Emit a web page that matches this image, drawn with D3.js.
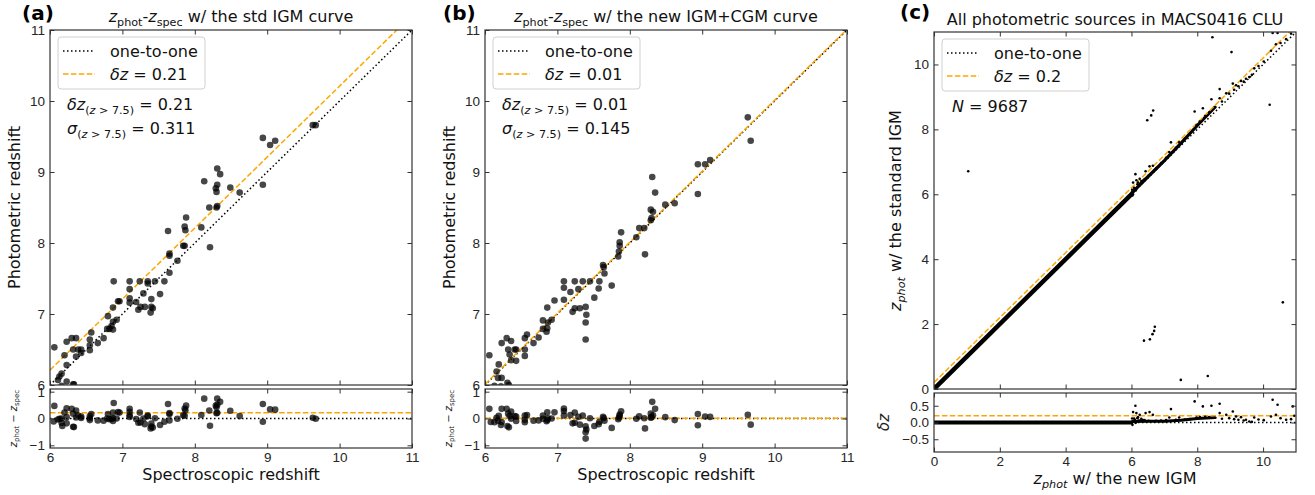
<!DOCTYPE html>
<html>
<head>
<meta charset="utf-8">
<script src="https://cdn.jsdelivr.net/npm/d3@7"></script>
<style>
    body { margin: 0; background: #fff; }
    svg { display: block; font-family: "DejaVu Sans", sans-serif; }
    .tick text { font-size: 13.5px; fill: #262626; }
    .tick line { stroke: #333; stroke-width: 1; }
</style>
</head>
<body>
<div class="svg_container"></div>
<script>
// [z_spec, z_phot] with the standard IGM curve
var stdPoints = [
    [6.06, 6.53], [6.23, 6.61], [6.30, 6.66], [6.36, 6.66], [6.32, 6.50], [6.39, 6.50], [6.43, 6.50],
    [6.20, 6.42], [6.36, 6.40], [6.43, 6.45], [6.23, 6.28], [6.16, 6.16], [6.13, 6.12], [6.11, 6.07],
    [6.23, 6.05], [6.32, 6.01], [6.05, 5.94], [6.16, 5.99], [6.17, 5.89], [6.33, 6.01],
    [6.55, 6.56], [6.57, 6.74], [6.55, 6.64], [6.55, 6.49], [6.66, 6.59], [6.74, 6.66], [6.79, 6.79],
    [6.82, 6.79], [6.87, 6.78], [6.85, 6.83], [6.87, 6.89], [6.92, 6.92], [6.80, 6.97], [6.87, 7.09],
    [6.88, 7.46], [6.94, 7.18], [6.96, 7.18],
    [7.10, 7.46], [7.10, 7.35], [7.10, 7.22], [7.10, 7.16], [7.19, 7.17], [7.22, 7.06], [7.25, 7.10],
    [7.31, 7.10], [7.24, 7.46], [7.35, 7.46], [7.35, 7.43], [7.29, 7.29], [7.40, 7.21], [7.40, 7.10],
    [7.42, 7.08], [7.39, 7.02], [7.45, 7.46], [7.58, 7.46], [7.52, 7.28],
    [7.65, 7.58], [7.65, 7.85], [7.65, 7.82], [7.63, 8.17], [7.76, 7.75], [7.84, 7.96], [7.86, 7.96],
    [7.86, 8.23], [7.87, 8.18], [7.88, 8.36],
    [8.09, 8.22], [8.21, 7.94], [8.20, 8.50], [8.30, 8.50], [8.31, 8.52], [8.13, 8.87], [8.29, 8.77],
    [8.30, 8.72], [8.31, 8.82], [8.31, 9.05], [8.35, 8.97], [8.49, 8.78], [8.62, 8.71],
    [8.94, 8.82], [8.94, 9.48], [9.04, 9.38], [9.11, 9.44], [9.63, 9.66], [9.67, 9.66]
];

// [z_spec, z_phot] with the new IGM+CGM curve
var newPoints = [
    [6.06, 6.42], [6.18, 6.10], [6.23, 6.10], [6.16, 6.19], [6.19, 6.29], [6.23, 6.59], [6.30, 6.66],
    [6.36, 6.62], [6.32, 6.50], [6.34, 6.43], [6.41, 6.50], [6.43, 6.50], [6.36, 6.35], [6.43, 6.34],
    [6.13, 5.99], [6.22, 5.98], [6.31, 6.03], [6.08, 5.95], [6.33, 6.00],
    [6.55, 6.50], [6.55, 6.41], [6.55, 6.66], [6.58, 6.71], [6.67, 6.59], [6.74, 6.67], [6.80, 6.79],
    [6.86, 6.80], [6.85, 6.75], [6.87, 6.88], [6.92, 6.92], [6.80, 6.91], [6.86, 7.09], [6.96, 7.19],
    [7.09, 7.46], [7.09, 7.37], [7.09, 7.20], [7.18, 7.31], [7.24, 7.46], [7.35, 7.46], [7.29, 7.35],
    [7.21, 7.03], [7.24, 7.08], [7.31, 7.08], [7.39, 7.10], [7.40, 6.99], [7.39, 6.88], [7.39, 6.64],
    [7.45, 7.46], [7.58, 7.46], [7.57, 7.36], [7.51, 7.23], [7.75, 7.40],
    [7.64, 7.66], [7.65, 7.57], [7.63, 7.69], [7.84, 7.81], [7.86, 7.96], [7.86, 8.01], [7.88, 8.15],
    [7.85, 7.88],
    [8.09, 8.08], [8.21, 7.84], [8.20, 8.21], [8.13, 8.21], [8.29, 8.32], [8.30, 8.35], [8.29, 8.47],
    [8.32, 8.44], [8.31, 8.93], [8.35, 8.71], [8.49, 8.54], [8.62, 8.56],
    [8.94, 8.69], [8.94, 9.11], [9.04, 9.11], [9.11, 9.17], [9.63, 9.77], [9.67, 9.44]
];

// MACS0416 sources: [z_phot new IGM, z_phot standard IGM]
var allSources = [
    [1.04, 6.71], [6.38, 1.49], [6.56, 1.53], [6.64, 1.69], [6.69, 1.79], [6.71, 1.92],
    [6.48, 8.28], [6.60, 8.43], [6.66, 8.58], [7.50, 0.28], [8.32, 0.40], [10.60, 2.67],
    [10.20, 8.76], [8.46, 10.84], [9.04, 10.38],
    [6.05, 6.36], [6.12, 6.62], [6.15, 6.43], [6.25, 6.48], [6.43, 6.71], [6.55, 6.86], [6.65, 6.88],
    [6.03, 5.96], [6.08, 6.20], [6.18, 6.31], [6.22, 6.28], [6.30, 6.41], [6.35, 6.42], [6.20, 6.36],
    [6.10, 6.18], [6.27, 6.33], [6.40, 6.47], [6.02, 6.14], [6.13, 6.12], [6.52, 6.57], [6.75, 6.80],
    [6.90, 6.96], [7.05, 7.12], [7.15, 7.30], [7.20, 7.60], [7.35, 7.43], [7.45, 7.60], [7.62, 7.71],
    [7.78, 7.88], [7.92, 8.55], [7.98, 8.13], [8.08, 8.24], [8.17, 8.65], [8.24, 8.41], [8.36, 8.52],
    [8.43, 8.93], [8.55, 8.69], [8.68, 9.24], [8.68, 8.96], [8.75, 8.86], [8.88, 9.11], [8.97, 9.10],
    [9.08, 9.41], [9.12, 9.22], [9.18, 9.36], [9.25, 9.33], [9.33, 9.49], [9.41, 9.47], [9.48, 9.56],
    [9.58, 9.61], [9.66, 9.68], [9.73, 9.88], [9.86, 9.95], [10.02, 10.09], [10.24, 10.42],
    [10.29, 10.97], [10.39, 10.62], [10.44, 10.97], [10.53, 10.66], [10.70, 10.78], [10.85, 10.95],
    [10.90, 11.38], [10.95, 11.15]
];

// unresolved bulk of the 9687 sources, traced along its centre
var denseLow = [[0, 0], [6.05, 6.05]];
var denseHigh = [[6.0, 6.03], [6.5, 6.54], [7.0, 7.04], [7.5, 7.57], [8.0, 8.12], [8.55, 8.70]];

var ticksAB = [6, 7, 8, 9, 10, 11];
var resTicksAB = [-1, 0, 1];
var ticksC = [0, 2, 4, 6, 8, 10];
var resTicksC = [-0.5, 0, 0.5];

var offsetStd = 0.21;
var offsetNew = 0.01;
var offsetAll = 0.2;

const WIDTH = 1315;
const HEIGHT = 495;
const ORANGE = "#FFA500";

var translate = function (x, y) {
    return "translate(" + x + "," + y + ")";
};

// text with italic / subscript pieces, like matplotlib mathtext
var mathText = function (sel, parts, size) {
    var shift = 0;
    parts.forEach(function (p) {
        var want = p.sub ? size * 0.24 : 0;
        var t = sel.append("tspan").text(p.t).attr("dy", want - shift);
        shift = want;
        if (p.it) t.attr("font-style", "italic");
        if (p.sub) t.attr("font-size", size * 0.7);
    });
    return sel;
};

var panels = [
    {
        tag: "(a)", tagX: 22, tagY: 20,
        left: 50, right: 412, top: 30, mid: 385, resTop: 389, bottom: 448,
        dom: [6, 11], resDom: [-1.1, 1.1], ticks: ticksAB, resTicks: resTicksAB, resFmt: d3.format("d"),
        data: stdPoints, offset: offsetStd, r: 3.3, small: false,
        title: [{t: "z", it: 1}, {t: "phot", sub: 1}, {t: "-"}, {t: "z", it: 1}, {t: "spec", sub: 1}, {t: " w/ the std IGM curve"}],
        titleY: 22, titleSize: 16,
        yLabel: [{t: "Photometric redshift"}], yLabelX: 20, yLabelSize: 16,
        xLabel: [{t: "Spectroscopic redshift"}], xLabelY: 480,
        resLabel: [{t: "z", it: 1}, {t: "phot", sub: 1}, {t: " \u2212 "}, {t: "z", it: 1}, {t: "spec", sub: 1}],
        resLabelX: 17, resLabelSize: 10,
        legendText: "0.21",
        notes: [
            [{t: "\u03b4z", it: 1}, {t: "(", sub: 1}, {t: "z", it: 1, sub: 1}, {t: " > 7.5)", sub: 1}, {t: " = 0.21"}],
            [{t: "\u03c3", it: 1}, {t: "(", sub: 1}, {t: "z", it: 1, sub: 1}, {t: " > 7.5)", sub: 1}, {t: " = 0.311"}]
        ]
    },
    {
        tag: "(b)", tagX: 443, tagY: 20,
        left: 485, right: 847, top: 30, mid: 385, resTop: 389, bottom: 448,
        dom: [6, 11], resDom: [-1.1, 1.1], ticks: ticksAB, resTicks: resTicksAB, resFmt: d3.format("d"),
        data: newPoints, offset: offsetNew, r: 3.3, small: false,
        title: [{t: "z", it: 1}, {t: "phot", sub: 1}, {t: "-"}, {t: "z", it: 1}, {t: "spec", sub: 1}, {t: " w/ the new IGM+CGM curve"}],
        titleY: 22, titleSize: 16,
        yLabel: [{t: "Photometric redshift"}], yLabelX: 455, yLabelSize: 16,
        xLabel: [{t: "Spectroscopic redshift"}], xLabelY: 480,
        resLabel: [{t: "z", it: 1}, {t: "phot", sub: 1}, {t: " \u2212 "}, {t: "z", it: 1}, {t: "spec", sub: 1}],
        resLabelX: 452, resLabelSize: 10,
        legendText: "0.01",
        notes: [
            [{t: "\u03b4z", it: 1}, {t: "(", sub: 1}, {t: "z", it: 1, sub: 1}, {t: " > 7.5)", sub: 1}, {t: " = 0.01"}],
            [{t: "\u03c3", it: 1}, {t: "(", sub: 1}, {t: "z", it: 1, sub: 1}, {t: " > 7.5)", sub: 1}, {t: " = 0.145"}]
        ]
    },
    {
        tag: "(c)", tagX: 900, tagY: 19,
        left: 934, right: 1296, top: 32, mid: 389, resTop: 393, bottom: 452,
        dom: [0, 11], resDom: [-0.88, 0.88], ticks: ticksC, resTicks: resTicksC, resFmt: d3.format(".1f"),
        data: allSources, offset: offsetAll, r: 1.3, small: true,
        title: [{t: "All photometric sources in MACS0416 CLU"}],
        titleY: 25, titleSize: 16,
        yLabel: [{t: "z", it: 1}, {t: "phot", it: 1, sub: 1}, {t: " w/ the standard IGM"}], yLabelX: 901, yLabelSize: 16,
        xLabel: [{t: "z", it: 1}, {t: "phot", it: 1, sub: 1}, {t: " w/ the new IGM"}], xLabelY: 484,
        resLabel: [{t: "\u03b4z", it: 1}], resLabelX: 889, resLabelSize: 15,
        legendText: "0.2",
        notes: [
            [{t: "N", it: 1}, {t: " = 9687"}]
        ]
    }
];

var drawPanel = function (svg, p, i) {
    var g = svg.append("g").attr("class", "panel");
    var xScale = d3.scaleLinear().domain(p.dom).range([p.left, p.right]);
    var yScale = d3.scaleLinear().domain(p.dom).range([p.mid, p.top]);
    var rScale = d3.scaleLinear().domain(p.resDom).range([p.bottom, p.resTop]);
    var intFmt = d3.format("d");

    var defs = svg.append("defs");
    defs.append("clipPath").attr("id", "main" + i).append("rect")
        .attr("x", p.left).attr("y", p.top).attr("width", p.right - p.left).attr("height", p.mid - p.top);
    defs.append("clipPath").attr("id", "res" + i).append("rect")
        .attr("x", p.left).attr("y", p.resTop).attr("width", p.right - p.left).attr("height", p.bottom - p.resTop);

    var main = g.append("g").attr("clip-path", "url(#main" + i + ")");
    var res = g.append("g").attr("clip-path", "url(#res" + i + ")");

    var line = d3.line().x(function (d) { return xScale(d[0]); }).y(function (d) { return yScale(d[1]); });
    var resLine = d3.line().x(function (d) { return xScale(d[0]); }).y(function (d) { return rScale(d[1] - d[0]); });

    if (p.small) {
        main.append("path").attr("d", line(denseLow)).attr("fill", "none").attr("stroke", "#000").attr("stroke-width", 4.5);
        main.append("path").attr("d", line(denseHigh)).attr("fill", "none").attr("stroke", "#000").attr("stroke-width", 3.2);
        res.append("path").attr("d", resLine(denseLow)).attr("fill", "none").attr("stroke", "#000").attr("stroke-width", 4.2);
        res.append("path").attr("d", resLine(denseHigh)).attr("fill", "none").attr("stroke", "#000").attr("stroke-width", 3);
    }

    // reference lines
    var one = [[p.dom[0], p.dom[0]], [p.dom[1], p.dom[1]]];
    var off = [[p.dom[0], p.dom[0] + p.offset], [p.dom[1], p.dom[1] + p.offset]];
    main.append("path").attr("d", line(one)).attr("fill", "none")
        .attr("stroke", "#000").attr("stroke-width", 1.5).attr("stroke-dasharray", "1.5,2.5");
    main.append("path").attr("d", line(off)).attr("fill", "none")
        .attr("stroke", ORANGE).attr("stroke-width", 1.5).attr("stroke-dasharray", "5.5,2.4");
    res.append("path").attr("d", resLine(one)).attr("fill", "none")
        .attr("stroke", "#000").attr("stroke-width", 1.5).attr("stroke-dasharray", "1.5,2.5");
    res.append("path").attr("d", resLine(off)).attr("fill", "none")
        .attr("stroke", ORANGE).attr("stroke-width", 1.5).attr("stroke-dasharray", "5.5,2.4");

    var fill = p.small ? "#000" : "rgba(0,0,0,0.72)";
    main.selectAll("circle").data(p.data).enter().append("circle")
        .attr("cx", function (d) { return xScale(d[0]); })
        .attr("cy", function (d) { return yScale(d[1]); })
        .attr("r", p.r).attr("fill", fill);
    res.selectAll("circle").data(p.data).enter().append("circle")
        .attr("cx", function (d) { return xScale(d[0]); })
        .attr("cy", function (d) { return rScale(d[1] - d[0]); })
        .attr("r", p.r).attr("fill", fill);

    // axes with inward ticks on all four sides
    var T = -4.5;
    g.append("g").attr("transform", translate(0, p.mid))
        .call(d3.axisBottom(xScale).tickValues(p.ticks).tickSize(T).tickFormat(""));
    g.append("g").attr("transform", translate(0, p.top))
        .call(d3.axisTop(xScale).tickValues(p.ticks).tickSize(T).tickFormat(""));
    g.append("g").attr("transform", translate(p.left, 0))
        .call(d3.axisLeft(yScale).tickValues(p.ticks).tickSize(T).tickPadding(5).tickFormat(intFmt));
    g.append("g").attr("transform", translate(p.right, 0))
        .call(d3.axisRight(yScale).tickValues(p.ticks).tickSize(T).tickFormat(""));
    g.append("g").attr("transform", translate(0, p.bottom))
        .call(d3.axisBottom(xScale).tickValues(p.ticks).tickSize(T).tickPadding(4).tickFormat(intFmt));
    g.append("g").attr("transform", translate(0, p.resTop))
        .call(d3.axisTop(xScale).tickValues(p.ticks).tickSize(T).tickFormat(""));
    g.append("g").attr("transform", translate(p.left, 0))
        .call(d3.axisLeft(rScale).tickValues(p.resTicks).tickSize(T).tickPadding(5).tickFormat(p.resFmt));
    g.append("g").attr("transform", translate(p.right, 0))
        .call(d3.axisRight(rScale).tickValues(p.resTicks).tickSize(T).tickFormat(""));
    g.selectAll(".domain").remove();
    g.selectAll(".tick text").attr("font-family", null).attr("font-size", null);

    // frames
    g.append("rect").attr("x", p.left).attr("y", p.top)
        .attr("width", p.right - p.left).attr("height", p.mid - p.top)
        .attr("fill", "none").attr("stroke", "#333").attr("stroke-width", 1.2);
    g.append("rect").attr("x", p.left).attr("y", p.resTop)
        .attr("width", p.right - p.left).attr("height", p.bottom - p.resTop)
        .attr("fill", "none").attr("stroke", "#333").attr("stroke-width", 1.2);

    // legend
    var lg = g.append("g").attr("transform", translate(p.left + 8, p.top + 7));
    lg.append("rect").attr("width", 147).attr("height", 52).attr("rx", 3)
        .attr("fill", "#fff").attr("fill-opacity", 0.85).attr("stroke", "#d0d0d0");
    lg.append("line").attr("x1", 5).attr("x2", 37).attr("y1", 14).attr("y2", 14)
        .attr("stroke", "#000").attr("stroke-width", 1.5).attr("stroke-dasharray", "1.5,2.5");
    lg.append("line").attr("x1", 5).attr("x2", 37).attr("y1", 37).attr("y2", 37)
        .attr("stroke", ORANGE).attr("stroke-width", 1.5).attr("stroke-dasharray", "5.5,2.4");
    lg.append("text").attr("x", 52).attr("y", 20).attr("font-size", 16).attr("fill", "#111").text("one-to-one");
    mathText(lg.append("text").attr("x", 52).attr("y", 43).attr("font-size", 16).attr("fill", "#111"),
        [{t: "\u03b4z", it: 1}, {t: " = " + p.legendText}], 16);

    // notes
    p.notes.forEach(function (n, k) {
        mathText(g.append("text").attr("x", p.left + (p.small ? 18 : 17)).attr("y", p.top + 80 + k * 24)
            .attr("font-size", 16).attr("fill", "#111"), n, 16);
    });

    // titles and labels
    mathText(g.append("text").attr("x", (p.left + p.right) / 2).attr("y", p.titleY)
        .attr("text-anchor", "middle").attr("font-size", p.titleSize).attr("fill", "#111"), p.title, p.titleSize);
    g.append("text").attr("x", p.tagX).attr("y", p.tagY).attr("font-size", 20)
        .attr("font-weight", "bold").attr("fill", "#000").text(p.tag);
    mathText(g.append("text").attr("transform", translate(p.yLabelX, (p.top + p.mid) / 2) + " rotate(-90)")
        .attr("text-anchor", "middle").attr("font-size", p.yLabelSize).attr("fill", "#111"), p.yLabel, p.yLabelSize);
    mathText(g.append("text").attr("x", (p.left + p.right) / 2).attr("y", p.xLabelY)
        .attr("text-anchor", "middle").attr("font-size", 16).attr("fill", "#111"), p.xLabel, 16);
    mathText(g.append("text").attr("transform", translate(p.resLabelX, (p.resTop + p.bottom) / 2) + " rotate(-90)")
        .attr("text-anchor", "middle").attr("font-size", p.resLabelSize).attr("fill", "#222"), p.resLabel, p.resLabelSize);
};

var loadDefault = function () {
    var svg = d3.select(".svg_container").append("svg")
        .attr("width", WIDTH)
        .attr("height", HEIGHT);
    panels.forEach(function (p, i) {
        drawPanel(svg, p, i);
    });
};

window.onload = loadDefault;
</script>
</body>
</html>
